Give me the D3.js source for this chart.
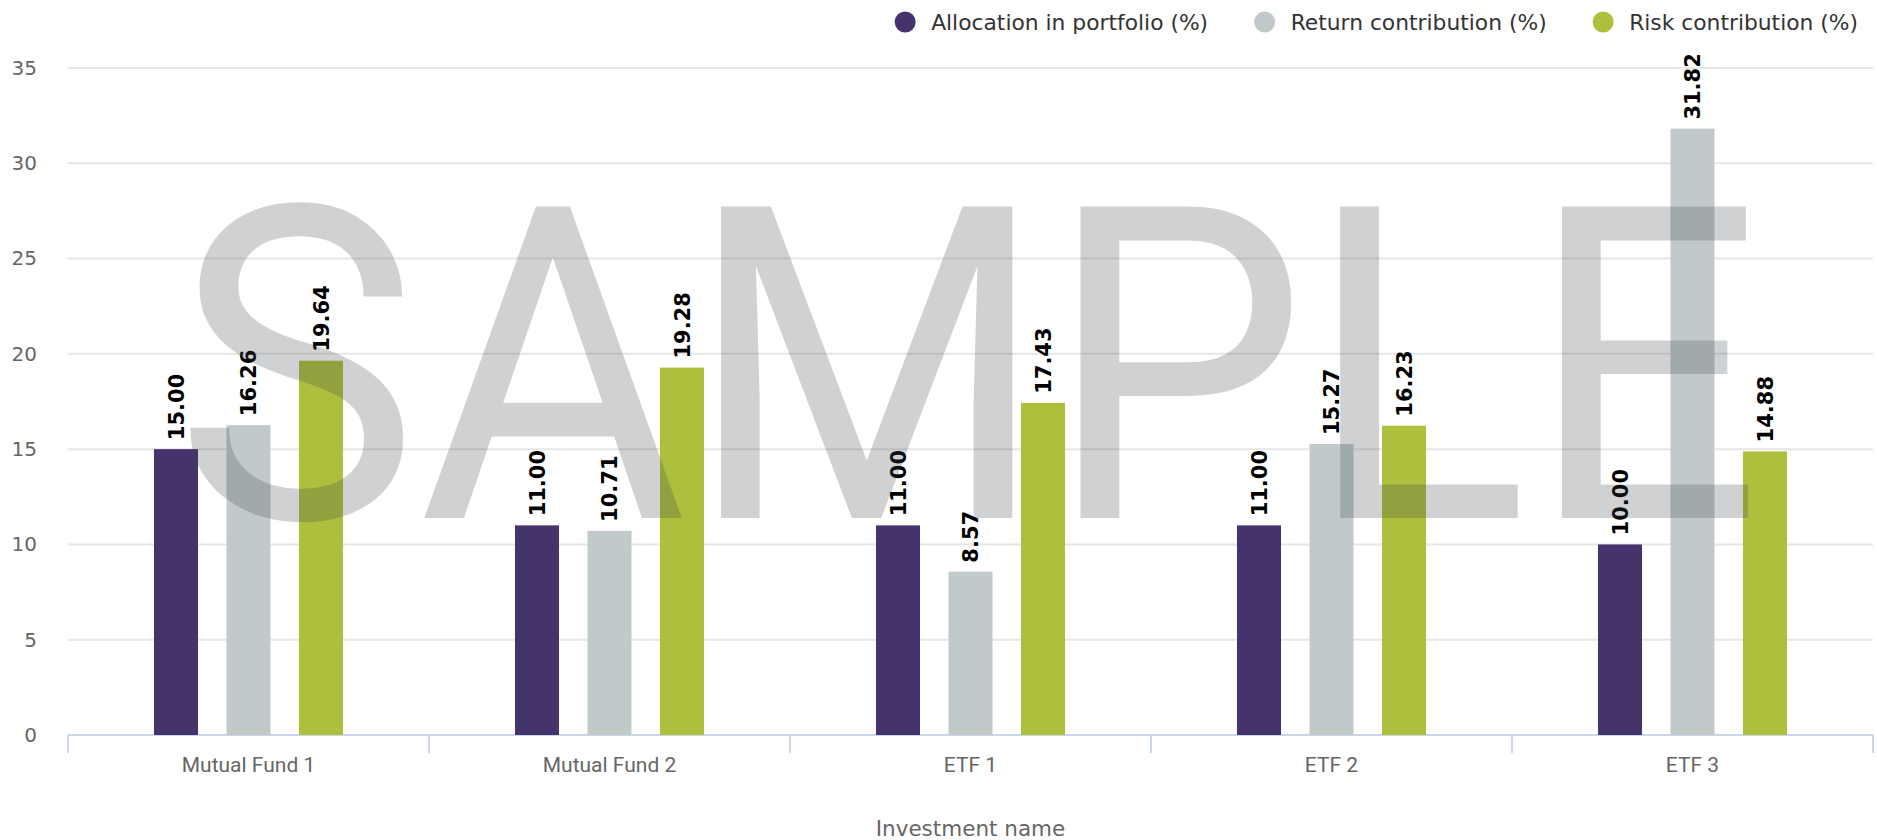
<!DOCTYPE html>
<html>
<head>
<meta charset="utf-8">
<script src="https://cdn.jsdelivr.net/npm/d3@7"></script>
<style>
  body { margin: 0; background: #fff; }
  svg { display: block; }
</style>
</head>
<body>
<div id="chart"></div>
<script>
// datos
var investments = ["Mutual Fund 1", "Mutual Fund 2", "ETF 1", "ETF 2", "ETF 3"];
var seriesNames = ["Allocation in portfolio (%)", "Return contribution (%)", "Risk contribution (%)"];
var allocation = [15.00, 11.00, 11.00, 11.00, 10.00];
var returnContrib = [16.26, 10.71, 8.57, 15.27, 31.82];
var riskContrib = [19.64, 19.28, 17.43, 16.23, 14.88];
var yTicks = [0, 5, 10, 15, 20, 25, 30, 35];
var colors = ["#45336b", "#c0cacb", "#aebf3e"];

var width = 1877;
var height = 840;

var svg = d3.select("#chart")
            .append("svg")
            .attr("width", width)
            .attr("height", height);

var plotLeft = 68, plotRight = 1873, plotTop = 68, plotBottom = 735;

// escalas
var x0 = d3.scaleBand()
           .domain(investments)
           .range([plotLeft, plotRight]);

var x1 = d3.scaleBand()
           .domain(seriesNames)
           .range([0, x0.bandwidth()])
           .paddingInner(0.393)
           .paddingOuter(1.186);

var y = d3.scaleLinear()
          .domain([0, 35])
          .range([plotBottom, plotTop]);

// grid
svg.append("g")
   .selectAll("line")
   .data(yTicks.filter(d => d > 0))
   .enter()
   .append("line")
   .attr("x1", plotLeft)
   .attr("x2", plotRight)
   .attr("y1", d => y(d))
   .attr("y2", d => y(d))
   .attr("stroke", "#e6e6e6")
   .attr("stroke-width", 2);

// eje Y
var yAxis = svg.append("g")
               .attr("transform", "translate(" + plotLeft + ",0)")
               .call(d3.axisLeft(y).tickValues(yTicks).tickSize(0).tickPadding(31));
yAxis.select(".domain").remove();
yAxis.selectAll("text")
     .attr("fill", "#666")
     .style("font-family", "DejaVu Sans")
     .style("font-size", "20px");

// eje X
var xAxis = svg.append("g")
               .attr("transform", "translate(0," + plotBottom + ")")
               .call(d3.axisBottom(x0).tickSize(0).tickPadding(0));
xAxis.select(".domain").remove();
xAxis.selectAll("text")
     .attr("y", 37)
     .attr("dy", 0)
     .attr("fill", "#666")
     .style("font-family", "Roboto")
     .style("font-size", "21px");

var boundaries = investments.map(d => x0(d)).concat([plotRight]);
svg.append("g")
   .selectAll("line")
   .data(boundaries)
   .enter()
   .append("line")
   .attr("x1", d => d)
   .attr("x2", d => d)
   .attr("y1", plotBottom)
   .attr("y2", plotBottom + 18)
   .attr("stroke", "#ccd6eb")
   .attr("stroke-width", 2);

svg.append("line")
   .attr("x1", plotLeft)
   .attr("x2", plotRight)
   .attr("y1", plotBottom)
   .attr("y2", plotBottom)
   .attr("stroke", "#ccd6eb")
   .attr("stroke-width", 2);

// barras
var rows = investments.map(function (name, i) {
    return {name: name, values: [allocation[i], returnContrib[i], riskContrib[i]]};
});

var groups = svg.append("g")
                .selectAll("g")
                .data(rows)
                .enter()
                .append("g")
                .attr("transform", d => "translate(" + x0(d.name) + ",0)");

groups.selectAll("rect")
      .data(d => d.values.map((v, j) => ({series: seriesNames[j], value: v, j: j})))
      .enter()
      .append("rect")
      .attr("x", d => x1(d.series))
      .attr("y", d => y(d.value))
      .attr("width", x1.bandwidth())
      .attr("height", d => plotBottom - y(d.value))
      .attr("fill", d => colors[d.j]);

// marca de agua
svg.append("text")
   .attr("transform", "translate(968,518) scale(0.94,1)")
   .attr("text-anchor", "middle")
   .style("font-family", "Roboto")
   .style("font-size", "438px")
   .attr("fill", "rgb(61,65,73)")
   .attr("fill-opacity", 0.242)
   .text("SAMPLE");

// etiquetas de valores
groups.selectAll("text.val")
      .data(d => d.values.map((v, j) => ({series: seriesNames[j], value: v})))
      .enter()
      .append("text")
      .attr("class", "val")
      .attr("transform", d => "translate(" + (x1(d.series) + x1.bandwidth() / 2) + "," + (y(d.value) - 9) + ") rotate(-90)")
      .attr("dy", "0.36em")
      .style("font-family", "DejaVu Sans")
      .style("font-weight", "bold")
      .style("font-size", "21px")
      .attr("fill", "#000")
      .text(d => d.value.toFixed(2));

// leyenda
var legend = svg.append("g");
var items = legend.selectAll("g")
                  .data(seriesNames)
                  .enter()
                  .append("g");
items.append("circle")
     .attr("r", 10.5)
     .attr("cy", 22)
     .attr("fill", (d, i) => colors[i]);
items.append("text")
     .attr("x", 26)
     .attr("y", 22)
     .attr("dy", "0.36em")
     .attr("fill", "#333")
     .style("font-family", "DejaVu Sans")
     .style("font-size", "21.8px")
     .text(d => d);

var widths = [];
items.select("text").each(function () { widths.push(this.getComputedTextLength()); });
var total = d3.sum(widths.map(w => 10.5 + 26 + w)) + 46 * (widths.length - 1);
var cursor = 1858 - total;
items.each(function (d, i) {
    d3.select(this).attr("transform", "translate(" + (cursor + 10.5) + ",0)");
    cursor += 10.5 + 26 + widths[i] + 46;
});

// titulo eje X
svg.append("text")
   .attr("x", (plotLeft + plotRight) / 2)
   .attr("y", 836)
   .attr("text-anchor", "middle")
   .attr("fill", "#666")
   .style("font-family", "DejaVu Sans")
   .style("font-size", "21.5px")
   .text("Investment name");
</script>
</body>
</html>
